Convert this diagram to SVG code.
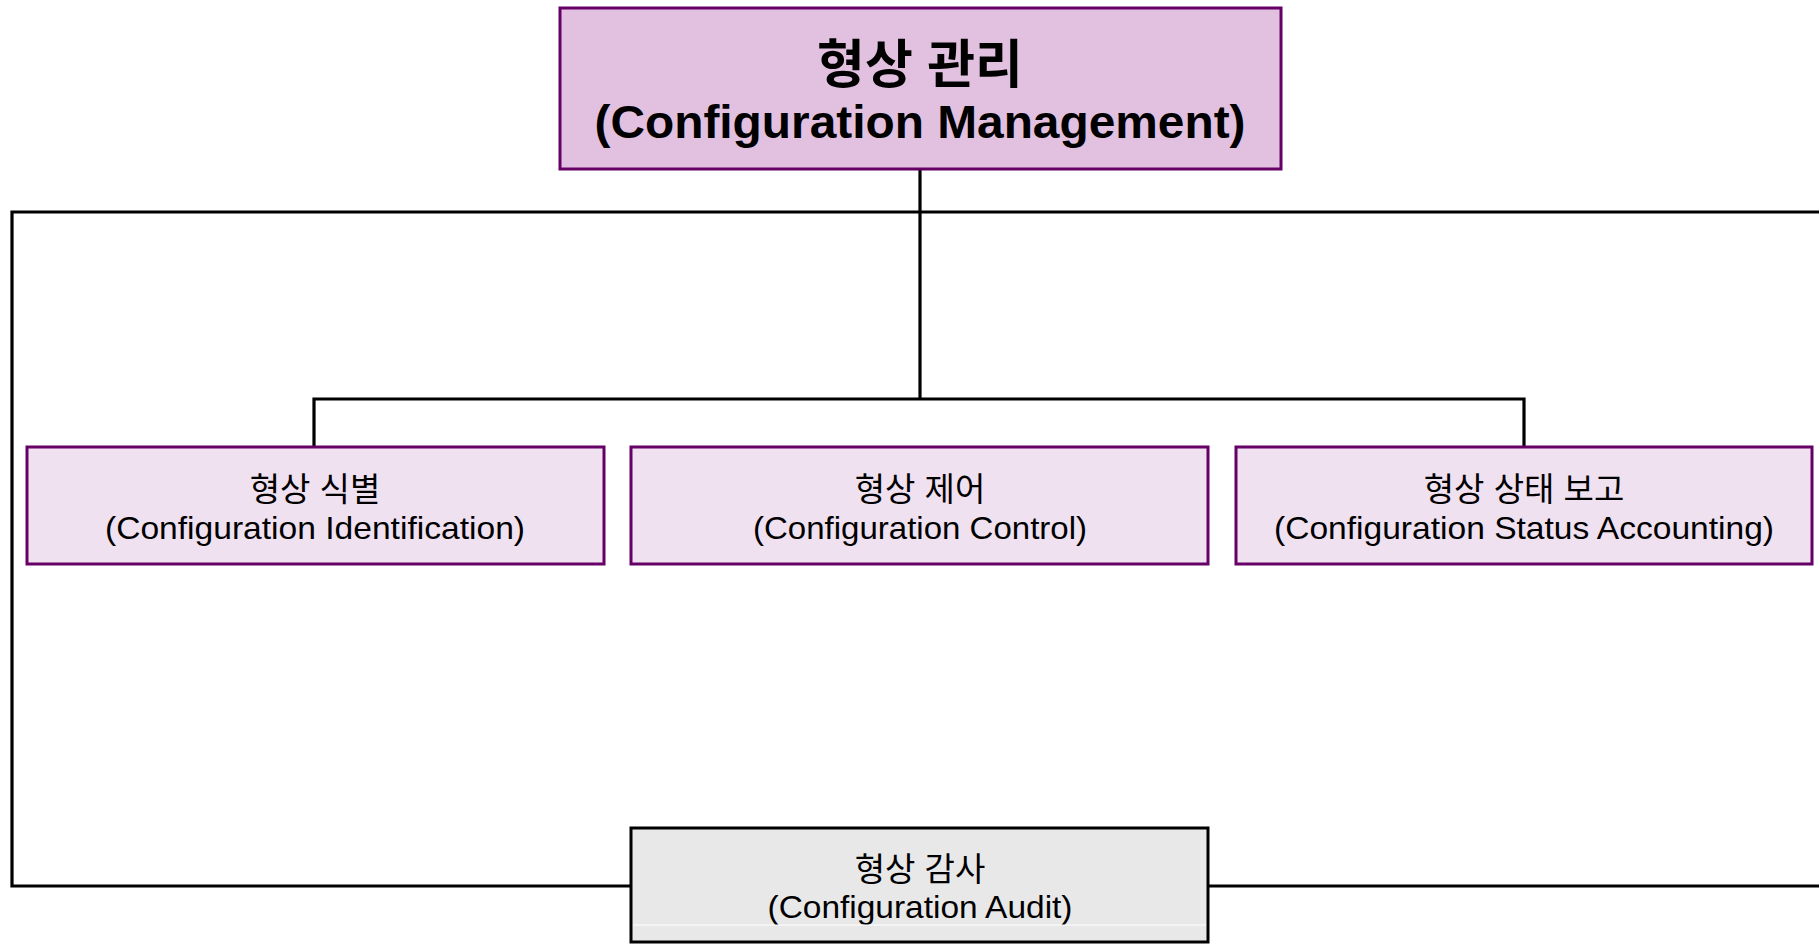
<svg xmlns="http://www.w3.org/2000/svg" width="1819" height="944" viewBox="0 0 1819 944">
<style>
.bg{fill:#ffffff}
.top{fill:#e2c1e0;stroke:#660066;stroke-width:3}
.sub{fill:#f0e1f1;stroke:#660066;stroke-width:3}
.aud{fill:#e8e8e8;stroke:#000000;stroke-width:3}
.conn{fill:none;stroke:#000000;stroke-width:3.2}
.ko{font-family:"Liberation Sans","Noto Sans CJK KR",sans-serif;font-size:33px;fill:#000;text-anchor:middle}
.en{font-family:"Liberation Sans","Noto Sans CJK KR",sans-serif;font-size:32px;fill:#000;text-anchor:middle}
.kot{font-family:"Liberation Sans","Noto Sans CJK KR",sans-serif;font-size:52px;font-weight:bold;fill:#000;text-anchor:middle}
.ent{font-family:"Liberation Sans","Noto Sans CJK KR",sans-serif;font-size:46px;font-weight:bold;fill:#000;text-anchor:middle}
</style>
<rect class="bg" x="0" y="0" width="1819" height="944"/>
<g id="connectors">
<polyline class="conn" points="920,169 920,399"/>
<polyline class="conn" points="314,447 314,399 1524,399 1524,447"/>
<polyline class="conn" points="1819,212 12,212 12,886 631,886"/>
<polyline class="conn" points="1208,886 1819,886"/>
</g>
<g id="node-cm">
<rect class="top" x="560" y="8" width="721" height="161"/>
<text class="kot" x="920" y="83">형상 관리</text>
<text class="ent" x="920" y="138" textLength="651" lengthAdjust="spacingAndGlyphs">(Configuration Management)</text>
</g>
<g id="node-ci">
<rect class="sub" x="27" y="447" width="577" height="117"/>
<text class="ko" x="315" y="501">형상 식별</text>
<text class="en" x="315" y="539" textLength="420" lengthAdjust="spacingAndGlyphs">(Configuration Identification)</text>
</g>
<g id="node-cc">
<rect class="sub" x="631" y="447" width="577" height="117"/>
<text class="ko" x="920" y="501">형상 제어</text>
<text class="en" x="920" y="539" textLength="334" lengthAdjust="spacingAndGlyphs">(Configuration Control)</text>
</g>
<g id="node-csa">
<rect class="sub" x="1236" y="447" width="576" height="117"/>
<text class="ko" x="1524" y="501">형상 상태 보고</text>
<text class="en" x="1524" y="539" textLength="500" lengthAdjust="spacingAndGlyphs">(Configuration Status Accounting)</text>
</g>
<g id="node-ca">
<rect class="aud" x="631" y="828" width="577" height="114"/>
<text class="ko" x="920" y="881">형상 감사</text>
<text class="en" x="920" y="918" textLength="305" lengthAdjust="spacingAndGlyphs">(Configuration Audit)</text>
<line x1="633" y1="925" x2="1206" y2="925" stroke="#ffffff" stroke-width="1"/>
</g>
</svg>
